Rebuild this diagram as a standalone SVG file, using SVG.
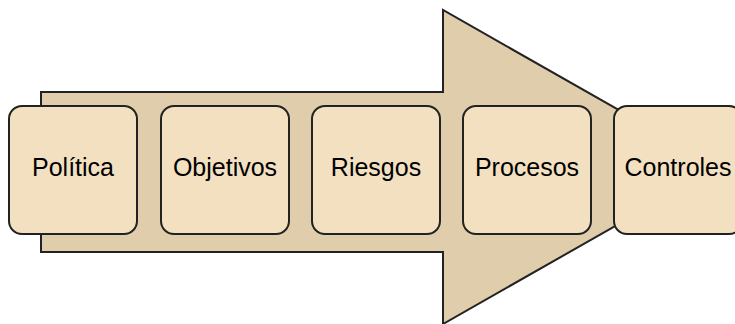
<svg xmlns="http://www.w3.org/2000/svg" width="735" height="324" viewBox="0 0 735 324">
<style>
.arrow{fill:#dfcdab;stroke:#222;stroke-width:2;stroke-linejoin:miter}
.box{fill:#f3e0c1;stroke:#222;stroke-width:2}
.lbl{font-family:"Liberation Sans",Arial,sans-serif;font-size:25px;fill:#000;text-anchor:middle}
</style>
<rect width="735" height="324" fill="#fff"/>
<g id="connectors">
<path class="arrow" d="M41,92 H443 V10 L719,167 L443,324 V252 H41 Z"/>
</g>
<g id="n1"><rect class="box" x="9" y="106" width="128" height="128" rx="13"/><text class="lbl" x="73" y="176">Política</text></g>
<g id="n2"><rect class="box" x="161" y="106" width="128" height="128" rx="13"/><text class="lbl" x="225" y="176">Objetivos</text></g>
<g id="n3"><rect class="box" x="312" y="106" width="128" height="128" rx="13"/><text class="lbl" x="376" y="176">Riesgos</text></g>
<g id="n4"><rect class="box" x="463" y="106" width="128" height="128" rx="13"/><text class="lbl" x="527" y="176">Procesos</text></g>
<g id="n5"><rect class="box" x="614" y="106" width="128" height="128" rx="13"/><text class="lbl" x="678" y="176">Controles</text></g>
</svg>
